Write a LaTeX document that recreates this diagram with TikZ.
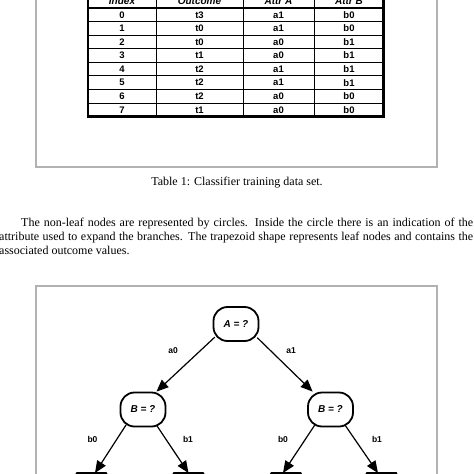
\documentclass[tikz,border=0pt]{standalone}
\usepackage{fontspec}
\setmainfont{Liberation Serif}
\newfontfamily\arialf{Liberation Sans}
\usetikzlibrary{arrows.meta,shapes.geometric}
\definecolor{framegray}{RGB}{178,178,178}
\begin{document}
\begin{tikzpicture}[x=1pt,y=-1pt,
  frame/.style={draw=framegray, line width=1.3pt},
  cell/.style={font=\arialf\bfseries\fontsize{9.5}{10}\selectfont, inner sep=0pt},
  headcell/.style={font=\arialf\bfseries\itshape\fontsize{10}{11}\selectfont, inner sep=0pt},
  thin/.style={line width=0.9pt},
  test/.style={draw, line width=1.8pt, rounded corners=14pt, minimum width=45pt, minimum height=34pt, inner sep=0pt, font=\arialf\bfseries\itshape\fontsize{10}{12}\selectfont},
  leaf/.style={draw, line width=2pt, trapezium, trapezium stretches=true, minimum width=62pt, minimum height=28pt, anchor=north, outer sep=0pt, inner sep=2pt},
  edge/.style={line width=1.2pt, -{Triangle[length=12pt,width=10pt]}},
  elabel/.style={font=\arialf\bfseries\fontsize{8.5}{10}\selectfont, inner sep=0pt},
  para/.style={font=\fontsize{12}{14}\selectfont, inner sep=0pt, anchor=base west}
]
\useasboundingbox (0,0) rectangle (474,474);
\clip (0,0) rectangle (474,474);

% upper frame
\draw[frame] (36,-10) -- (36,167) -- (437,167) -- (437,-10);

% table grid
\foreach \k in {1,...,7} \draw[thin] (88,{8+13.58*\k}) -- (383.5,{8+13.58*\k});
\foreach \x in {156,243.3,314.3} \draw[thin] (\x,-8) -- (\x,116.7);
\draw[line width=2.2pt] (88,8) -- (383.5,8);
\draw[line width=2.6pt] (88,-10) -- (88,116.7) -- (383.5,116.7) -- (383.5,-10);

% header
\node[headcell] (hi) at (122,1.2) {Index};
\node[headcell] (ho) at (199.5,1.2) {Outcome};
\node[headcell] (ha) at (278.5,1.2) {Attr A};
\node[headcell] (hb) at (349,1.2) {Attr B};

% rows
\foreach \i/\o/\a/\b [count=\k] in {0/t3/a1/b0,1/t0/a1/b0,2/t0/a0/b1,3/t1/a0/b1,4/t2/a1/b1,5/t2/a1/b1,6/t2/a0/b0,7/t1/a0/b0}{
  \node[cell] (ri\i) at (122,{8+13.58*\k-6.79}) {\i};
  \node[cell] (ro\i) at (199.5,{8+13.58*\k-6.79}) {\o};
  \node[cell] (ra\i) at (278.5,{8+13.58*\k-6.79}) {\a};
  \node[cell] (rb\i) at (349,{8+13.58*\k-6.79}) {\b};
}

% caption and paragraph
\node[font=\fontsize{12}{14}\selectfont, inner sep=0pt, anchor=base] (cap) at (237,185) {Table 1: Classifier training data set.};
\node[para] (p1) at (21,226) {\makebox[452pt][s]{The non-leaf nodes are represented by circles. Inside the circle there is an indication of the}};
\node[para] (p2) at (-1,240) {\makebox[474pt][s]{attribute used to expand the branches. The trapezoid shape represents leaf nodes and contains the}};
\node[para] (p3) at (-1,254) {associated outcome values.};

% lower frame
\draw[frame] (36,490) -- (36,286) -- (437,286) -- (437,490);

% tree
\node[test] (A) at (236,324) {A = ?};
\node[test] (B0) at (143,409.5) {B = ?};
\node[test] (B1) at (330.5,409.5) {B = ?};
\node[leaf] (L0) at (91.5,473) {};
\node[leaf] (L1) at (188.5,473) {};
\node[leaf] (L2) at (286,473) {};
\node[leaf] (L3) at (381.5,473) {};

\draw[edge, shorten <=-3pt] (A.213) -- (B0.53);
\draw[edge, shorten <=-3pt] (A.326) -- (B1.135);
\draw[edge, shorten <=-3pt] (B0.224) -- ([xshift=3.5pt]L0.north);
\draw[edge, shorten <=-3pt] (B0.310) -- (L1.north);
\draw[edge, shorten <=-3pt] (B1.226) -- ([xshift=-3pt]L2.north);
\draw[edge, shorten <=-3pt] (B1.312) -- ([xshift=-3.5pt]L3.north);

\node[elabel] (la0) at (173,351) {a0};
\node[elabel] (la1) at (291,351) {a1};
\node[elabel] (lb00) at (92.5,439.5) {b0};
\node[elabel] (lb01) at (188,439.5) {b1};
\node[elabel] (lb10) at (283,439.5) {b0};
\node[elabel] (lb11) at (377,439.5) {b1};
\end{tikzpicture}
\end{document}
